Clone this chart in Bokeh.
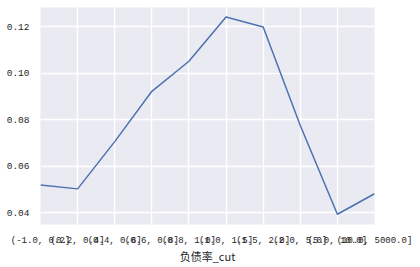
from bokeh.plotting import figure
from bokeh.models import FixedTicker, Range1d
from bokeh.embed import file_html
from bokeh.resources import INLINE

categories = ["(-1.0, 0.2]", "(0.2, 0.4]", "(0.4, 0.6]", "(0.6, 0.8]", "(0.8, 1.0]",
              "(1.0, 1.5]", "(1.5, 2.0]", "(2.0, 5.0]", "(5.0, 10.0]", "(10.0, 5000.0]"]
values = [0.0520, 0.0503, 0.0706, 0.0922, 0.1051, 0.1241, 0.1198, 0.0775, 0.0394, 0.0482]
y_ticks = [0.04, 0.06, 0.08, 0.10, 0.12]

xs = list(range(len(categories)))
FONT = "Noto Sans CJK SC"
TICK_FONT = "Liberation Mono"

p = figure(width=420, height=267, output_backend="svg", toolbar_location=None,
           x_range=Range1d(0, len(categories) - 1), y_range=Range1d(0.0350, 0.1282),
           min_border_left=40, min_border_right=46, min_border_top=7, min_border_bottom=43)
p.background_fill_color = "#EAEAF2"
p.border_fill_color = "white"
p.outline_line_color = None

p.line(xs, values, line_color="#4C72B0", line_width=1.5)

p.xaxis.ticker = FixedTicker(ticks=xs)
p.xaxis.major_label_overrides = {i: c for i, c in enumerate(categories)}
p.yaxis.ticker = FixedTicker(ticks=y_ticks)
p.yaxis.major_label_overrides = {t: f"{t:.2f}" for t in y_ticks}

for ax in (p.xaxis[0], p.yaxis[0]):
    ax.axis_line_color = None
    ax.major_tick_line_color = None
    ax.minor_tick_line_color = None
    ax.major_label_text_font = TICK_FONT
    ax.major_label_text_font_size = "9px"
    ax.major_label_text_color = "#262626"
    ax.major_label_standoff = 5
p.yaxis.major_label_text_font_size = "9.5px"
p.xaxis.axis_label = "负债率_cut"
p.xaxis.axis_label_text_font = FONT
p.xaxis.axis_label_text_font_size = "11px"
p.xaxis.axis_label_text_font_style = "normal"
p.xaxis.axis_label_text_color = "#262626"
p.xaxis.axis_label_standoff = -1

p.grid.grid_line_color = "white"
p.grid.grid_line_width = 1.3

open("out.html", "w").write(file_html(p, INLINE))
